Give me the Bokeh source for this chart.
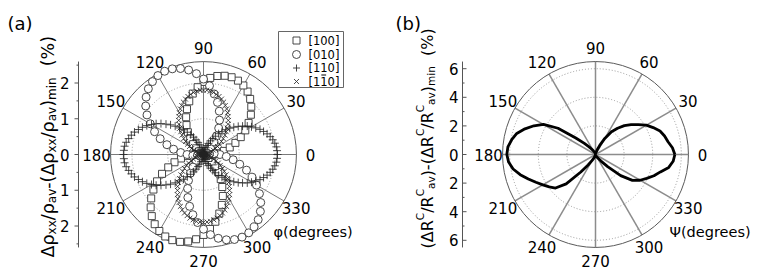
import numpy as np
from bokeh.plotting import figure
from bokeh.layouts import row
from bokeh.models import Range1d
from bokeh.core.properties import value
from bokeh.embed import file_html
from bokeh.resources import INLINE

FONT = "DejaVu Sans"

# ---------------- panel (a) data ----------------
phi_5 = list(range(0, 360, 5))     # sampling angles for [100] and [010] (deg)
phi_3 = list(range(0, 360, 3))     # sampling angles for [110] and [1-10] (deg)

r_100 = [0.27, 0.41, 0.58, 0.76, 0.95, 1.15, 1.35, 1.54, 1.73, 1.89, 2.03, 2.15, 2.23, 2.28, 2.30, 2.28, 2.23, 2.15,
         2.03, 1.89, 1.73, 1.54, 1.35, 1.15, 0.95, 0.76, 0.58, 0.41, 0.27, 0.15, 0.07, 0.02, 0.00, 0.02, 0.08, 0.17,
         0.30, 0.46, 0.64, 0.84, 1.05, 1.28, 1.50, 1.71, 1.91, 2.09, 2.25, 2.38, 2.47, 2.53, 2.55, 2.53, 2.47, 2.38,
         2.25, 2.09, 1.91, 1.71, 1.50, 1.28, 1.05, 0.84, 0.64, 0.46, 0.30, 0.17, 0.08, 0.02, 0.00, 0.02, 0.07, 0.15]

r_010 = [0.46, 0.30, 0.17, 0.08, 0.02, 0.00, 0.02, 0.08, 0.17, 0.30, 0.46, 0.64, 0.85, 1.06, 1.29, 1.51, 1.72, 1.93,
         2.11, 2.27, 2.40, 2.49, 2.55, 2.57, 2.55, 2.49, 2.40, 2.27, 2.11, 1.93, 1.72, 1.51, 1.29, 1.06, 0.85, 0.64,
         0.46, 0.30, 0.17, 0.08, 0.02, 0.00, 0.02, 0.08, 0.17, 0.30, 0.46, 0.64, 0.84, 1.05, 1.28, 1.50, 1.71, 1.91,
         2.09, 2.25, 2.38, 2.47, 2.53, 2.55, 2.53, 2.47, 2.38, 2.25, 2.09, 1.91, 1.71, 1.50, 1.28, 1.05, 0.84, 0.64]

r_110 = [2.07, 2.06, 2.05, 2.02, 1.98, 1.93, 1.87, 1.80, 1.73, 1.64, 1.55, 1.46, 1.35, 1.25, 1.14, 1.04, 0.93, 0.82,
         0.72, 0.61, 0.52, 0.43, 0.34, 0.27, 0.20, 0.14, 0.09, 0.05, 0.02, 0.01, 0.00,
         0.01, 0.02, 0.05, 0.10, 0.15, 0.21, 0.29, 0.37, 0.46, 0.56, 0.66, 0.77, 0.89, 1.00, 1.12, 1.24, 1.35, 1.47,
         1.58, 1.68, 1.78, 1.87, 1.95, 2.03, 2.09, 2.14, 2.19, 2.22, 2.23, 2.24,
         2.23, 2.22, 2.19, 2.14, 2.09, 2.03, 1.95, 1.87, 1.78, 1.68, 1.58, 1.47, 1.35, 1.24, 1.12, 1.00, 0.89, 0.77,
         0.66, 0.56, 0.46, 0.37, 0.29, 0.21, 0.15, 0.10, 0.05, 0.02, 0.01, 0.00,
         0.01, 0.02, 0.05, 0.09, 0.14, 0.20, 0.27, 0.34, 0.43, 0.52, 0.61, 0.72, 0.82, 0.93, 1.04, 1.14, 1.25, 1.35,
         1.46, 1.55, 1.64, 1.73, 1.80, 1.87, 1.93, 1.98, 2.02, 2.05, 2.06]

r_1b10 = [0.00, 0.00, 0.02, 0.04, 0.08, 0.12, 0.17, 0.23, 0.30, 0.37, 0.45, 0.53, 0.62, 0.71, 0.81, 0.90, 0.99, 1.09,
          1.18, 1.27, 1.35, 1.43, 1.50, 1.57, 1.63, 1.68, 1.72, 1.76, 1.78, 1.80, 1.80,
          1.80, 1.78, 1.76, 1.72, 1.68, 1.63, 1.57, 1.50, 1.43, 1.35, 1.27, 1.18, 1.09, 0.99, 0.90, 0.81, 0.71, 0.62,
          0.53, 0.45, 0.37, 0.30, 0.23, 0.17, 0.12, 0.08, 0.04, 0.02, 0.00, 0.00,
          0.01, 0.02, 0.05, 0.08, 0.13, 0.18, 0.24, 0.31, 0.39, 0.48, 0.56, 0.66, 0.75, 0.85, 0.95, 1.05, 1.15, 1.24,
          1.34, 1.43, 1.51, 1.59, 1.66, 1.72, 1.77, 1.82, 1.85, 1.88, 1.89, 1.90,
          1.89, 1.88, 1.85, 1.82, 1.77, 1.72, 1.66, 1.59, 1.51, 1.43, 1.34, 1.24, 1.15, 1.05, 0.95, 0.85, 0.75, 0.66,
          0.56, 0.48, 0.39, 0.31, 0.24, 0.18, 0.13, 0.08, 0.05, 0.02, 0.01]

legend_labels = ["[100]", "[010]", "[110]", "[110]"]
ticks_a = [0, 1, 2]
minor_a = [0.5, 1.5, 2.5]
rmax_a = 2.6

# ---------------- panel (b) data ----------------
psi = list(range(0, 360, 5))
r_b = [5.55, 5.40, 5.15, 5.00, 4.80, 4.45, 4.10, 3.65, 3.25, 2.85, 2.40, 1.95, 1.30, 0.70, 0.35, 0.15, 0.07, 0.03, 0.00,
       0.02, 0.05, 0.10, 0.15, 0.20, 0.30, 0.45, 0.70, 1.10, 1.80, 3.20, 4.20, 4.75, 5.25, 5.70, 5.95, 6.15, 6.20,
       6.10, 5.85, 5.45, 5.00, 4.60, 4.25, 3.95, 3.65, 2.90, 1.60, 0.90, 0.50, 0.30, 0.15, 0.08, 0.04, 0.02, 0.00,
       0.03, 0.05, 0.08, 0.10, 0.15, 0.20, 0.35, 0.60, 1.20, 2.30, 3.15, 3.60, 3.95, 4.35, 4.70, 5.20, 5.45]
ticks_b = [0, 2, 4, 6]
minor_b = [1, 3, 5]
rmax_b = 6.5

angle_ticks = list(range(0, 360, 30))

# DejaVu Sans advance widths (em)
W_EM = {'Δ': 0.684, 'ρ': 0.635, 'x': 0.592, '/': 0.337, 'a': 0.613, 'v': 0.592, '-': 0.361, '(': 0.390,
        ')': 0.390, 'm': 0.974, 'i': 0.278, 'n': 0.634, ' ': 0.318, '%': 0.950, 'R': 0.695, 'C': 0.698,
        '[': 0.390, ']': 0.390, '1': 0.636, '0': 0.636}


def tw(txt, size):
    return sum(W_EM.get(c, 0.6) for c in txt) * size


def make_fig(W, H, ox, cx, cy, s):
    fx, fy = cx - ox, cy
    p = figure(width=W, height=H, x_range=Range1d(-fx / s, (W - fx) / s),
               y_range=Range1d(-(H - fy) / s, fy / s), x_axis_type=None, y_axis_type=None,
               min_border=0, toolbar_location=None, output_backend="svg",
               outline_line_color=None, background_fill_color="white", border_fill_color="white")
    P = lambda px, py: ((px - cx) / s, (cy - py) / s)
    return p, P


def polar_grid(p, s, rmax, dotted, spoke_color, spoke_w):
    p.circle(x=[0] * len(dotted), y=[0] * len(dotted), radius=dotted, fill_color=None,
             line_color="#9a9a9a", line_dash="1 2", line_width=1)
    ang = np.deg2rad(angle_ticks)
    p.segment(x0=np.zeros(len(ang)), y0=np.zeros(len(ang)), x1=rmax * np.cos(ang), y1=rmax * np.sin(ang),
              line_color=spoke_color, line_width=spoke_w)
    p.circle(x=[0], y=[0], radius=[rmax], fill_color=None, line_color="#5a5a5a", line_width=1)
    rl = rmax + 14 / s
    p.text(x=rl * np.cos(ang), y=rl * np.sin(ang), text=[str(a) for a in angle_ticks],
           text_align="center", text_baseline="middle", text_font=value(FONT),
           text_font_size="15px", text_color="black")


def radial_axis(p, P, s, axis_px, rmax, ticks, minor, gap_px, tick_dir):
    xa = P(axis_px, 0)[0]
    p.segment(x0=[xa], y0=[-rmax], x1=[xa], y1=[rmax], line_color="#555555", line_width=1)
    maj = sorted(set([t for t in ticks] + [-t for t in ticks]))
    mn = sorted([t for t in minor] + [-t for t in minor])
    p.segment(x0=[xa + tick_dir * 4 / s] * len(maj), y0=maj, x1=[xa] * len(maj), y1=maj,
              line_color="#555555", line_width=1)
    p.segment(x0=[xa + tick_dir * 2 / s] * len(mn), y0=mn, x1=[xa] * len(mn), y1=mn,
              line_color="#555555", line_width=1)
    p.text(x=[xa - gap_px / s] * len(maj), y=maj, text=[str(abs(t)) for t in maj], text_align="right",
           text_baseline="middle", text_font=value(FONT), text_font_size="15px", text_color="black")


def rot_title(p, P, base_px, start_px, pieces):
    y = start_px
    for txt, size, shift, adv in pieces:
        lead = len(txt) - len(txt.lstrip(" "))
        y -= lead * W_EM[' '] * size
        body = txt.lstrip(" ")
        x, yy = P(base_px + shift, y)
        p.text(x=[x], y=[yy], text=[body], angle=np.pi / 2, text_align="left", text_baseline="alphabetic",
               text_font=value(FONT), text_font_size=f"{size}px", text_color="black")
        if adv:
            y -= tw(body, size)


# ================= panel (a) =================
sa = 35.75
pa, Pa = make_fig(388, 280, 0, 203, 154, sa)
polar_grid(pa, sa, rmax_a, [1, 2], "#7a7a7a", 1)
radial_axis(pa, Pa, sa, 78, rmax_a, ticks_a, minor_a, 9, -1)

ph5 = np.deg2rad(phi_5)
ph3 = np.deg2rad(phi_3)
r1 = np.array(r_100); r2 = np.array(r_010); r3 = np.array(r_110); r4 = np.array(r_1b10)
pa.scatter(r1 * np.cos(ph5), r1 * np.sin(ph5), marker="square", size=7, fill_color="white",
           line_color="#333333", line_width=0.9)
pa.scatter(r2 * np.cos(ph5), r2 * np.sin(ph5), marker="circle", size=8, fill_color="white",
           line_color="#333333", line_width=0.9)
pa.scatter(r3 * np.cos(ph3), r3 * np.sin(ph3), marker="cross", size=8, line_color="#222222", line_width=0.8)
pa.scatter(r4 * np.cos(ph3), r4 * np.sin(ph3), marker="x", size=7, line_color="#222222", line_width=0.8)

# legend box
l, t = Pa(278, 31)
rgt, b = Pa(343, 87)
pa.quad(left=[l], right=[rgt], top=[t], bottom=[b], fill_color="white", line_color="#666666", line_width=1)
rows_px = [40, 54, 67.5, 81]
mk = ["square", "circle", "cross", "x"]
leg_fs = 11.5
for i, lab in enumerate(legend_labels):
    mx, my = Pa(296, rows_px[i])
    pa.scatter([mx], [my], marker=mk[i], size=7 if i != 1 else 8, fill_color="white",
               line_color="#333333", line_width=0.9)
    tx, ty = Pa(308, rows_px[i])
    pa.text(x=[tx], y=[ty], text=[lab], text_align="left", text_baseline="middle",
            text_font=value(FONT), text_font_size=f"{leg_fs}px", text_color="black")
# overbar on the second "1" of the last legend entry
ob0 = 308 + tw("[1", leg_fs) + 1
ob1 = 308 + tw("[11", leg_fs) - 1.5
bx0, by = Pa(ob0, rows_px[3] - 6.5)
bx1, _ = Pa(ob1, rows_px[3] - 6.5)
pa.segment(x0=[bx0], y0=[by], x1=[bx1], y1=[by], line_color="black", line_width=1)

x0, y0 = Pa(7, 12)
pa.text(x=[x0], y=[y0], text=["(a)"], text_align="left", text_baseline="top",
        text_font=value(FONT), text_font_size="18px", text_color="black")
x0, y0 = Pa(273, 231)
pa.text(x=[x0], y=[y0], text=["\u03c6(degrees)"], text_align="left", text_baseline="middle",
        text_font=value(FONT), text_font_size="14.5px", text_color="black")

rot_title(pa, Pa, 47, 257, [
    ("Δρ", 17.5, 0, True), ("xx", 12, 4.5, True), ("/ρ", 17.5, 0, True), ("av", 12, 4.5, True),
    ("-(Δρ", 17.5, 0, True), ("xx", 12, 4.5, True), ("/ρ", 17.5, 0, True), ("av", 12, 4.5, True),
    (")", 17.5, 0, True), ("min", 12, 4.5, True), ("  (%)", 17.5, 0, True)])

# ================= panel (b) =================
sb = 14.3
pb, Pb = make_fig(375, 280, 388, 595, 154, sb)
polar_grid(pb, sb, rmax_b, [2, 4, 6], "#8c8c8c", 1.5)
radial_axis(pb, Pb, sb, 462, rmax_b, ticks_b, minor_b, 4, 1)

psr = np.deg2rad(psi + [psi[0]])
rb = np.array(r_b + [r_b[0]])
pb.line(rb * np.cos(psr), rb * np.sin(psr), line_color="black", line_width=2.8, line_join="round")

x0, y0 = Pb(395, 12)
pb.text(x=[x0], y=[y0], text=["(b)"], text_align="left", text_baseline="top",
        text_font=value(FONT), text_font_size="18px", text_color="black")
x0, y0 = Pb(669, 231)
pb.text(x=[x0], y=[y0], text=["\u03a8(degrees)"], text_align="left", text_baseline="middle",
        text_font=value(FONT), text_font_size="14.5px", text_color="black")

rot_title(pb, Pb, 427, 248, [
    ("(ΔR", 16, 0, True), ("C", 10.5, -7.5, True), ("/R", 16, 0, True), ("C", 10.5, -7.5, True),
    ("av", 10.5, 3.5, True), (")-(ΔR", 16, 0, True), ("C", 10.5, -7.5, True), ("/R", 16, 0, True),
    ("C", 10.5, -7.5, True), ("av", 10.5, 3.5, True), (")", 16, 0, True), ("min", 10.5, 3.5, True),
    ("  (%)", 16, 0, True)])

layout = row(pa, pb)
open("out.html", "w").write(file_html(layout, INLINE))
